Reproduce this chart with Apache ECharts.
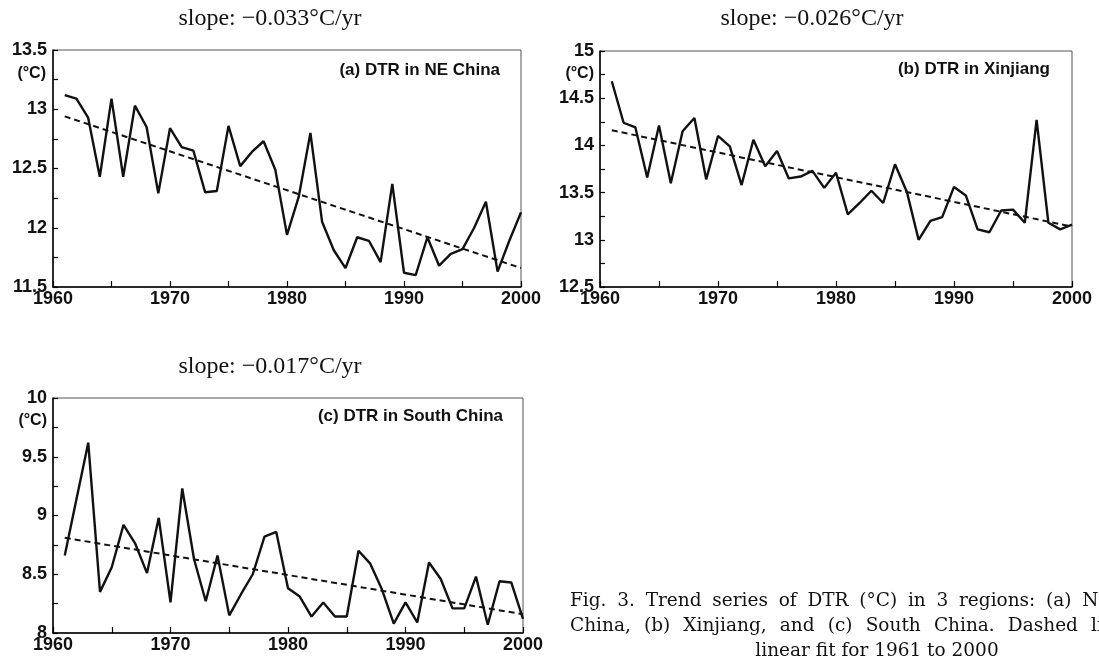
<!DOCTYPE html>
<html>
<head>
<meta charset="utf-8">
<script src="https://cdn.jsdelivr.net/npm/echarts@6/dist/echarts.min.js"></script>
<style>
html,body{margin:0;padding:0;background:#fff;}
#chart{width:1099px;height:664px;}
</style>
</head>
<body>
<div id="chart"></div>
<script>
// ---- data ----
const years = [1961,1962,1963,1964,1965,1966,1967,1968,1969,1970,
               1971,1972,1973,1974,1975,1976,1977,1978,1979,1980,
               1981,1982,1983,1984,1985,1986,1987,1988,1989,1990,
               1991,1992,1993,1994,1995,1996,1997,1998,1999,2000];
const dtrNEChina = [13.12,13.09,12.93,12.43,13.09,12.43,13.03,12.85,12.29,12.84,
                    12.68,12.65,12.30,12.31,12.86,12.52,12.64,12.73,12.49,11.94,
                    12.26,12.80,12.05,11.81,11.66,11.92,11.89,11.71,12.37,11.62,
                    11.60,11.92,11.68,11.78,11.82,12.00,12.22,11.63,11.89,12.13];
const dtrXinjiang = [14.68,14.24,14.19,13.66,14.21,13.60,14.15,14.29,13.64,14.10,
                     13.99,13.58,14.06,13.78,13.94,13.65,13.67,13.73,13.55,13.71,
                     13.27,13.39,13.52,13.39,13.80,13.51,13.00,13.20,13.24,13.56,
                     13.47,13.11,13.08,13.31,13.32,13.18,14.27,13.18,13.11,13.16];
const dtrSouthChina = [8.66,9.14,9.62,8.35,8.56,8.92,8.76,8.51,8.98,8.26,
                       9.23,8.63,8.27,8.66,8.15,8.33,8.50,8.82,8.86,8.38,
                       8.31,8.14,8.26,8.14,8.14,8.70,8.59,8.37,8.08,8.26,
                       8.09,8.60,8.46,8.21,8.21,8.48,8.07,8.44,8.43,8.12];
const trendYears = [1961, 2000];
const trendNEChina = [12.94, 11.66];
const trendXinjiang = [14.16, 13.14];
const trendSouthChina = [8.81, 8.16];
const slopeLabels = ['slope: \u22120.033\u00b0C/yr', 'slope: \u22120.026\u00b0C/yr', 'slope: \u22120.017\u00b0C/yr'];
const panelLabels = ['(a) DTR in NE China', '(b) DTR in Xinjiang', '(c) DTR in South China'];
const yRanges = [[11.5, 13.5], [12.5, 15], [8, 10]];
const xRange = [1960, 2000];
const unitLabel = '(\u00b0C)';
const captionLines = [
  'Fig. 3. Trend series of DTR (\u00b0C) in 3 regions: (a) NE',
  'China, (b) Xinjiang, and (c) South China. Dashed line:',
  'linear fit for 1961 to 2000'
];

// ---- chart ----
const pair = (xs, ys) => xs.map((x, i) => [x, ys[i]]);
const grids = [
  {left: 53, top: 50, width: 468, height: 237},
  {left: 600, top: 51, width: 472, height: 236},
  {left: 53, top: 398, width: 470, height: 235}
];
const LABEL_FONT = 'Liberation Sans';
function xAxis(i) {
  return {
    type: 'value', gridIndex: i, min: xRange[0], max: xRange[1], interval: 10,
    axisLine: {show: true, lineStyle: {color: '#000', width: 1.5}},
    axisTick: {show: true, inside: true, length: 6, lineStyle: {color: '#000', width: 1.2}},
    minorTick: {show: true, splitNumber: 2, length: 6, lineStyle: {color: '#000', width: 1.2}},
    axisLabel: {margin: 3, color: '#111', fontFamily: LABEL_FONT, fontWeight: 'bold', fontSize: 18,
                formatter: v => String(v)},
    splitLine: {show: false}
  };
}
function yAxis(i) {
  return {
    type: 'value', gridIndex: i, min: yRanges[i][0], max: yRanges[i][1], interval: 0.5,
    axisLine: {show: true, lineStyle: {color: '#000', width: 1.5}},
    axisTick: {show: true, inside: true, length: 5, lineStyle: {color: '#000', width: 1.2}},
    minorTick: {show: true, splitNumber: 2, length: 5, lineStyle: {color: '#000', width: 1.2}},
    axisLabel: {margin: 6, color: '#111', fontFamily: LABEL_FONT, fontWeight: 'bold', fontSize: 18,
                formatter: v => String(v)},
    splitLine: {show: false}
  };
}
const dataSets = [dtrNEChina, dtrXinjiang, dtrSouthChina];
const trendSets = [trendNEChina, trendXinjiang, trendSouthChina];
const series = [];
for (let i = 0; i < 3; i++) {
  series.push({
    type: 'line', xAxisIndex: i, yAxisIndex: i, data: pair(years, dataSets[i]),
    symbol: 'none', lineStyle: {color: '#111', width: 2.4}, animation: false, z: 3
  });
  series.push({
    type: 'line', xAxisIndex: i, yAxisIndex: i, data: pair(trendYears, trendSets[i]),
    symbol: 'none', lineStyle: {color: '#111', width: 2, type: [6, 4]}, animation: false, z: 2
  });
}
const txt = (text, x, y, font, align, valign) => ({
  type: 'text', x: x, y: y, z: 10,
  style: {text: text, font: font, fill: '#111', textAlign: align || 'left', textVerticalAlign: valign || 'middle'}
});
const titleFont = '24px "Liberation Serif"';
const panelFont = 'bold 17px "Liberation Sans"';
const unitFont = 'bold 16px "Liberation Sans"';
const capFont = '18.5px "DejaVu Serif"';

// justified caption lines
const measureCtx = document.createElement('canvas').getContext('2d');
measureCtx.font = capFont;
function justified(line, left, right, y) {
  const words = line.split(' ');
  const widths = words.map(w => measureCtx.measureText(w).width);
  const total = widths.reduce((a, b) => a + b, 0);
  const gap = (right - left - total) / (words.length - 1);
  const out = [];
  let x = left;
  words.forEach((w, k) => {
    out.push(txt(w, x, y, capFont, 'left'));
    x += widths[k] + gap;
  });
  return out;
}
const graphic = [
  txt(slopeLabels[0], 270, 19, titleFont, 'center'),
  txt(slopeLabels[1], 812, 19, titleFont, 'center'),
  txt(slopeLabels[2], 270, 367, titleFont, 'center'),
  txt(panelLabels[0], 500, 70, panelFont, 'right'),
  txt(panelLabels[1], 1050, 69, panelFont, 'right'),
  txt(panelLabels[2], 503, 416, panelFont, 'right'),
  txt(unitLabel, 46, 74, unitFont, 'right'),
  txt(unitLabel, 594, 74, unitFont, 'right'),
  txt(unitLabel, 47, 421, unitFont, 'right')
].concat(
  justified(captionLines[0], 570, 1112, 601),
  justified(captionLines[1], 570, 1132, 626),
  [txt(captionLines[2], 877, 651, capFont, 'center')]
);
const chart = echarts.init(document.getElementById('chart'), null, {renderer: 'canvas'});
chart.setOption({
  backgroundColor: '#fff',
  animation: false,
  grid: grids.map(g => Object.assign({show: true, borderColor: '#555', borderWidth: 1, backgroundColor: 'transparent'}, g)),
  xAxis: [0, 1, 2].map(xAxis),
  yAxis: [0, 1, 2].map(yAxis),
  series: series,
  graphic: graphic
});
</script>
</body>
</html>
